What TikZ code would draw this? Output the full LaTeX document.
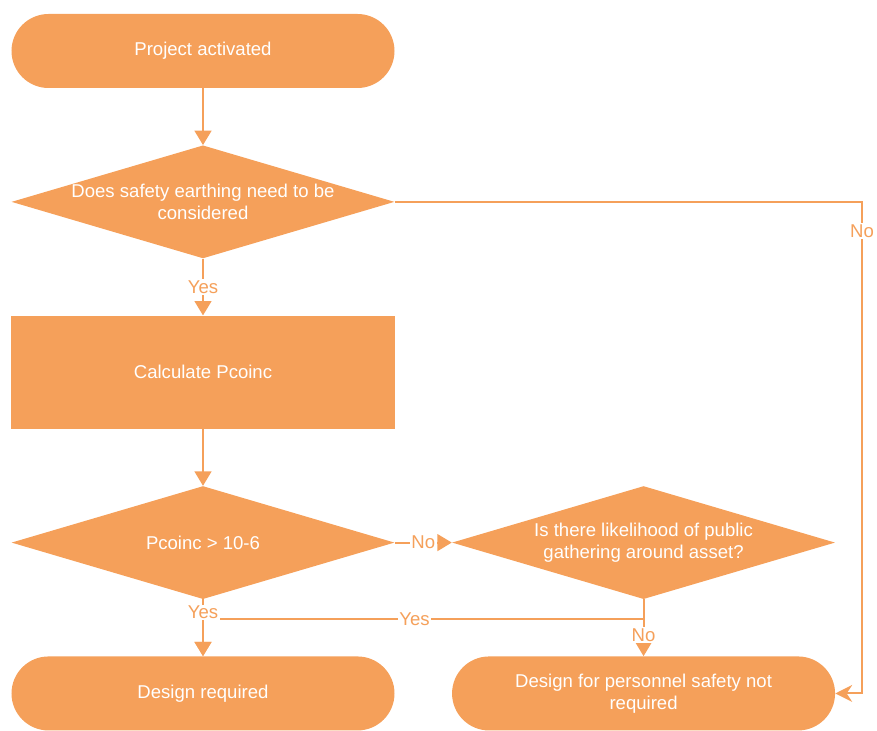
\documentclass[tikz,border=0pt]{standalone}
\usepackage{fontspec}
\setmainfont{Liberation Sans}
\usetikzlibrary{shapes.geometric,arrows.meta,positioning,calc}
\definecolor{flow}{HTML}{F5A05A}

\begin{document}
\begin{tikzpicture}[
  font=\fontsize{13.2}{15.6}\selectfont,
  node distance=1.42cm,
  termbox/.style={rectangle, rounded corners=0.925cm, fill=flow, text=white, minimum width=9.575cm, minimum height=1.85cm, align=center, inner sep=0pt},
  procbox/.style={rectangle, fill=flow, text=white, minimum width=9.575cm, minimum height=2.825cm, align=center},
  decision/.style={diamond, fill=flow, minimum width=9.575cm, minimum height=2.825cm, inner sep=0pt},
  dtext/.style={text=white, align=center, inner sep=0pt},
  arr/.style={-{Triangle[length=0.36cm, width=0.42cm]}, draw=flow, line width=1.4pt},
  lbl/.style={fill=white, text=flow, inner sep=1pt}
]
\useasboundingbox (0,0) rectangle (21.925,-18.275);
\node[termbox] (start) at (5.075,-1.275) {Project activated};
\node[decision, below=of start, label={[dtext]center:{Does safety earthing need to be\\considered}}] (d1) {};
\node[procbox, below=of d1] (calc) {Calculate Pcoinc};
\node[decision, below=of calc, label={[dtext]center:{Pcoinc > 10-6}}] (d2) {};
\node[decision, right=1.425cm of d2, label={[dtext]center:{Is there likelihood of public\\gathering around asset?}}] (d3) {};
\node[termbox, below=of d2] (dreq) {Design required};
\node[termbox, below=of d3] (nreq) {Design for personnel safety not\\required};
\coordinate (xr) at (21.55,0);
\draw[arr] (start) -- (d1);
\draw[arr] (d1) -- node[lbl]{Yes} (calc);
\draw[arr] (calc) -- (d2);
\draw[arr] (d2) -- node[lbl]{No} (d3);
\draw[arr] (d3.south) -- ++(0,-0.5) -| node[lbl, pos=0.26]{Yes} (dreq.north);
\draw[arr] (d2) -- node[lbl, pos=0.23]{Yes} (dreq);
\draw[arr] (d3) -- node[lbl, pos=0.63]{No} (nreq);
\draw[arr, -{Stealth[length=0.42cm, width=0.42cm]}] (d1.east) -- (d1.east -| xr) -- node[lbl, pos=0.06]{No} (nreq.east -| xr) -- (nreq.east);
\end{tikzpicture}
\end{document}
